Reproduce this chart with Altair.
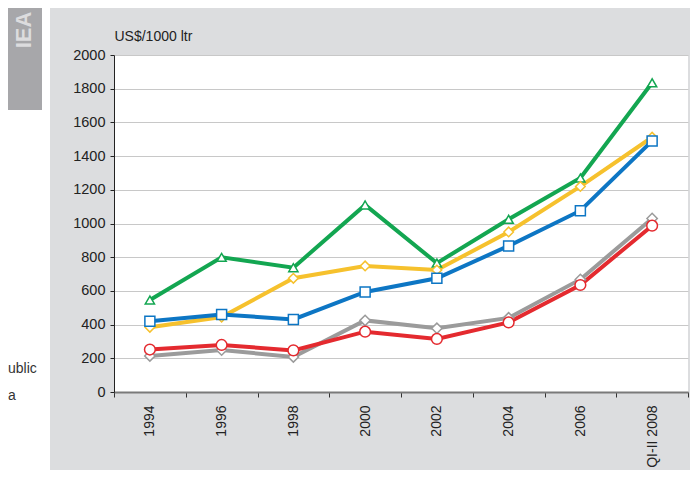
import altair as alt
import pandas as pd

periods = ["1994", "1996", "1998", "2000", "2002", "2004", "2006", "QI-II 2008"]
series_names = ["Series 1", "Series 2", "Series 3", "Series 4", "Series 5"]
series_colors = ["#13a651", "#f6c12d", "#0d76c4", "#9b9b9b", "#e42a2f"]
series_shapes = ["triangle-up", "diamond", "square", "diamond", "circle"]
series_marker_sizes = [85, 115, 85, 115, 85]

green = [546, 799, 738, 1110, 765, 1025, 1270, 1835]
yellow = [384, 445, 675, 748, 724, 950, 1220, 1512]
blue = [420, 460, 431, 594, 675, 867, 1076, 1490]
grey = [214, 249, 208, 425, 378, 440, 668, 1030]
red = [252, 279, 247, 358, 315, 413, 635, 987]

y_ticks = [0, 200, 400, 600, 800, 1000, 1200, 1400, 1600, 1800, 2000]

rows = []
for name, vals in zip(series_names, [green, yellow, blue, grey, red]):
    for p, v in zip(periods, vals):
        rows.append({"series": name, "period": p, "value": v})
df = pd.DataFrame(rows)
one = pd.DataFrame({"k": [0]})

FONT = "Liberation Sans"

x_enc = alt.X(
    "period:N",
    sort=periods,
    bandPosition=0.5,
    scale=alt.Scale(type="band", paddingInner=0, paddingOuter=0),
    axis=alt.Axis(
        title=None, labelAngle=-90, tickBand="extent", grid=False,
        domainColor="#7a7a7a", domainWidth=2, tickColor="#333333", tickSize=5,
        labelPadding=8, labelFontSize=14, labelColor="#222222",
    ),
)
y_enc = alt.Y(
    "value:Q",
    scale=alt.Scale(domain=[0, 2000], nice=False),
    axis=alt.Axis(
        values=y_ticks, format="d", title="US$/1000 ltr", titleAngle=0, titleAlign="left",
        titleX=0, titleY=-15, titleBaseline="alphabetic", titleFontWeight="normal",
        titleFontSize=14, titleColor="#222222",
        grid=True, gridColor="#c8c8c8", domainColor="#222222", tickColor="#222222",
        tickSize=4, labelPadding=5, labelFontSize=14.5, labelColor="#222222",
    ),
)
color_scale = alt.Scale(domain=series_names, range=series_colors)
shape_scale = alt.Scale(domain=series_names, range=series_shapes)
size_scale = alt.Scale(domain=series_names, range=series_marker_sizes)

left_white = alt.Chart(one).mark_rect(color="white").encode(
    x=alt.value(-106), x2=alt.value(-64), y=alt.value(-47), y2=alt.value(415)
)
sidebar = alt.Chart(one).mark_rect(color="#a7a7aa").encode(
    x=alt.value(-106), x2=alt.value(-72), y=alt.value(-47), y2=alt.value(55)
)
iea = alt.Chart(one).mark_text(
    text="IEA", angle=270, font=FONT, fontSize=22, fontWeight="bold",
    color="#dcdcde", align="center", baseline="middle",
).encode(x=alt.value(-90), y=alt.value(-25))
frag1 = alt.Chart(one).mark_text(
    text="ublic", font=FONT, fontSize=14, color="#333333", align="left", baseline="middle",
).encode(x=alt.value(-106), y=alt.value(314))
frag2 = alt.Chart(one).mark_text(
    text="a", font=FONT, fontSize=14, color="#333333", align="left", baseline="middle",
).encode(x=alt.value(-106), y=alt.value(341))

lines = alt.Chart(df).mark_line(strokeWidth=4).encode(
    x=x_enc, y=y_enc,
    color=alt.Color("series:N", scale=color_scale, legend=None),
)
points = alt.Chart(df).mark_point(
    filled=True, fill="white", strokeWidth=1.5, opacity=1
).encode(
    x=x_enc, y=y_enc,
    stroke=alt.Stroke("series:N", scale=color_scale, legend=None),
    shape=alt.Shape("series:N", scale=shape_scale, legend=None),
    size=alt.Size("series:N", scale=size_scale, legend=None),
)

chart = alt.layer(left_white, sidebar, iea, frag1, frag2, lines, points).properties(
    width=574, height=337,
    background="#dcdddf",
    padding={"left": 106, "top": 47, "right": 2, "bottom": 78},
    autosize=alt.AutoSizeParams(type="none"),
).configure(font=FONT).configure_view(fill="white", strokeWidth=0)

chart.save("out.html", embed_options={"renderer": "svg", "actions": False})
